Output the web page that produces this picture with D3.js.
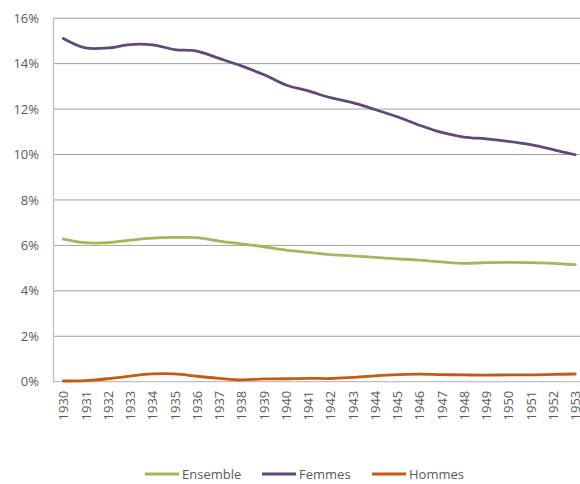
<!DOCTYPE html>
<html><head><meta charset="utf-8">
<script src="https://cdn.jsdelivr.net/npm/d3@7"></script>
<style>body{margin:0;background:#fff}svg{display:block}text{font-family:"Open Sans",sans-serif;fill:#595959}</style>
</head><body><svg id="c" width="580" height="484"></svg>
<script>
const years = [1930,1931,1932,1933,1934,1935,1936,1937,1938,1939,1940,1941,1942,1943,1944,1945,1946,1947,1948,1949,1950,1951,1952,1953];
const ensemble = [6.28,6.12,6.12,6.23,6.32,6.35,6.34,6.19,6.07,5.94,5.79,5.69,5.59,5.54,5.47,5.41,5.35,5.27,5.21,5.24,5.25,5.24,5.21,5.15];
const femmes = [15.11,14.69,14.69,14.84,14.83,14.62,14.55,14.23,13.9,13.52,13.06,12.8,12.5,12.28,11.98,11.66,11.29,10.97,10.77,10.69,10.58,10.43,10.22,9.99];
const hommes = [0.03,0.05,0.13,0.25,0.34,0.34,0.24,0.15,0.08,0.12,0.13,0.15,0.14,0.19,0.26,0.31,0.33,0.31,0.3,0.29,0.3,0.3,0.32,0.34];
const yTicks = [0,2,4,6,8,10,12,14,16];
const seriesNames = ["Ensemble","Femmes","Hommes"];
const colors = ["#9BBB59","#5F497A","#C65A11"];

const svg = d3.select("#c");
const x = d3.scalePoint().domain(years).range([63.3, 575.2]);
const y = d3.scaleLinear().domain([0,16]).range([381.7, 18.2]);

// gridlines
svg.append("g").selectAll("line").data(yTicks.filter(d=>d>0)).join("line")
  .attr("x1",53).attr("x2",590).attr("y1",d=>y(d)).attr("y2",d=>y(d))
  .attr("stroke","#a0a0a0").attr("stroke-width",1);

// y axis
const ya = svg.append("g").attr("transform","translate(53,0)")
  .call(d3.axisLeft(y).tickValues(yTicks).tickFormat(d=>d+"%").tickSize(0).tickPadding(14));
ya.select(".domain").attr("stroke","#bfbfbf").attr("stroke-width",1.3);
ya.selectAll("text").style("font-size","13px").attr("fill","#595959");

// x axis
const xa = svg.append("g").attr("transform","translate(0,"+y(0)+")")
  .call(d3.axisBottom(x).tickSize(0).tickPadding(0));
xa.select(".domain").attr("d","M53,0H590").attr("stroke","#bfbfbf").attr("stroke-width",1.3);
xa.selectAll("text").style("font-size","13px").attr("fill","#595959")
  .attr("transform","rotate(-90)").attr("text-anchor","end").attr("x",-9).attr("y",0).attr("dy","0.35em");

const line = d3.line().x((d,i)=>x(years[i])).y(d=>y(d)).curve(d3.curveCatmullRom.alpha(0.5));
[ensemble,femmes,hommes].forEach((s,k)=>{
  svg.append("path").datum(s).attr("d",line).attr("fill","none")
    .attr("stroke",colors[k]).attr("stroke-width",2.8).attr("stroke-linecap","round");
});

// legend
const legX = [145,262,372];
const lg = svg.append("g");
seriesNames.forEach((n,k)=>{
  lg.append("line").attr("x1",legX[k]).attr("x2",legX[k]+34).attr("y1",474).attr("y2",474)
    .attr("stroke",colors[k]).attr("stroke-width",2.8);
  lg.append("text").attr("x",legX[k]+37).attr("y",474).attr("dy","0.35em")
    .style("font-size","13px").text(n);
});
</script></body></html>
